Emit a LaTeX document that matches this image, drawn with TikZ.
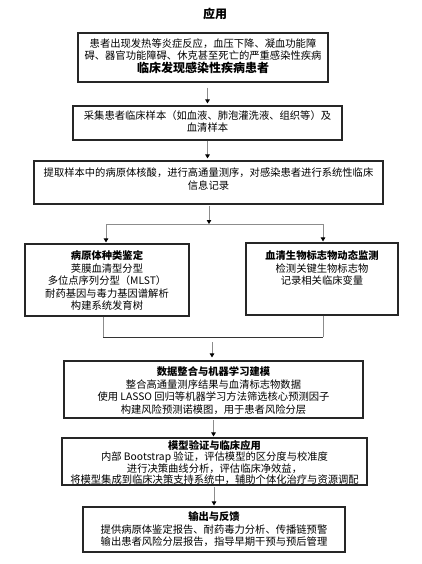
\documentclass[tikz,border=0pt]{standalone}
\usepackage{fontspec}
\setmainfont{Noto Sans CJK SC}
\usetikzlibrary{arrows.meta}
\tikzset{
  box/.style={draw=black!85, line width=1.1pt, rectangle, inner sep=0pt},
  txt/.style={align=center, inner sep=0pt, font=\fontsize{10.3pt}{12.5pt}\selectfont},
  conn/.style={draw=black!45, line width=0.9pt},
  arr/.style={conn, -{Triangle[length=4pt,width=4.5pt,color=black,fill=black]}},
}
\begin{document}
\begin{tikzpicture}[x=1pt,y=-1pt]
\useasboundingbox (0,0) rectangle (422,564);
% title
\node[font=\fontsize{12pt}{14pt}\selectfont\bfseries, inner sep=0pt] (title) at (215,14) {应用};
% boxes
\node[box, minimum width=250pt, minimum height=49pt] (b1) at (203,57.5) {};
\node[box, minimum width=269pt, minimum height=34pt] (b2) at (207.5,123) {};
\node[box, minimum width=349pt, minimum height=43pt] (b3) at (208.5,182.5) {};
\node[box, minimum width=164pt, minimum height=72pt] (bL) at (107,280) {};
\node[box, minimum width=152pt, minimum height=72pt] (bR) at (322,279) {};
\node[box, minimum width=299pt, minimum height=57pt] (b4) at (213.5,389.5) {};
\node[box, minimum width=305pt, minimum height=47pt] (b5) at (214.5,461.5) {};
\node[box, minimum width=262pt, minimum height=45pt] (b6) at (214,529.5) {};
% texts
\node[txt] (t1) at (203,56) {患者出现发热等炎症反应，血压下降、凝血功能障\\碍、器官功能障碍、休克甚至死亡的严重感染性疾病\\{\fontsize{12pt}{12.5pt}\selectfont\bfseries 临床发现感染性疾病患者}};
\node[txt] (t2) at (207.5,121.5) {采集患者临床样本（如血液、肺泡灌洗液、组织等）及\\血清样本};
\node[txt] (t3) at (208.5,179) {提取样本中的病原体核酸，进行高通量测序，对感染患者进行系统性临床\\信息记录};
\node[txt] (tL) at (107,280.5) {\textbf{病原体种类鉴定}\\荚膜血清型分型\\多位点序列分型（MLST）\\耐药基因与毒力基因谱解析\\构建系统发育树};
\node[txt] (tR) at (322,268) {\textbf{血清生物标志物动态监测}\\检测关键生物标志物\\记录相关临床变量};
\node[txt] (t4) at (213.5,390.5) {\textbf{数据整合与机器学习建模}\\整合高通量测序结果与血清标志物数据\\使用 LASSO 回归等机器学习方法筛选核心预测因子\\构建风险预测诺模图，用于患者风险分层};
\node[txt, font=\fontsize{10.3pt}{11pt}\selectfont] (t5) at (214.5,462.5) {\textbf{模型验证与临床应用}\\内部 Bootstrap 验证，评估模型的区分度与校准度\\进行决策曲线分析，评估临床净效益，\\将模型集成到临床决策支持系统中，辅助个体化治疗与资源调配};
\node[txt] (t6) at (214,529.5) {\textbf{输出与反馈}\\提供病原体鉴定报告、耐药毒力分析、传播链预警\\输出患者风险分层报告，指导早期干预与预后管理};
% coordinates
\coordinate (split) at (209,224);
\coordinate (splitL) at (106,224);
\coordinate (splitR) at (323,224);
\coordinate (joinL) at (103,337);
\coordinate (joinR) at (323,337);
\coordinate (joinM) at (212,337);
% connectors
\draw[arr, shorten <=5pt, shorten >=2pt] (b1.south -| b2.north) -- (b2.north);
\draw[arr, shorten >=2pt] (b2.south) -- (b2.south |- b3.north);
\draw[arr, shorten <=1pt] (b3.south -| split) -- (split);
\draw[conn] (splitL) -- (splitR);
\draw[arr, shorten >=1pt] (splitL) -- (splitL |- bL.north);
\draw[arr, shorten >=1pt] (splitR) -- (splitR |- bR.north);
\draw[conn] (bL.south -| joinL) -- (joinL);
\draw[conn] (bR.south -| joinR) -- (joinR);
\draw[line width=0.9pt, draw=black!80] (joinL) -- (joinR);
\draw[arr, shorten <=5pt, shorten >=3pt] (joinM) -- (joinM |- b4.north);
\draw[arr, shorten <=1pt, shorten >=1pt] (b4.south) -- (b4.south |- b5.north);
\draw[arr, shorten <=1pt, shorten >=1pt] (b5.south -| b6.north) -- (b6.north);
\end{tikzpicture}
\end{document}
